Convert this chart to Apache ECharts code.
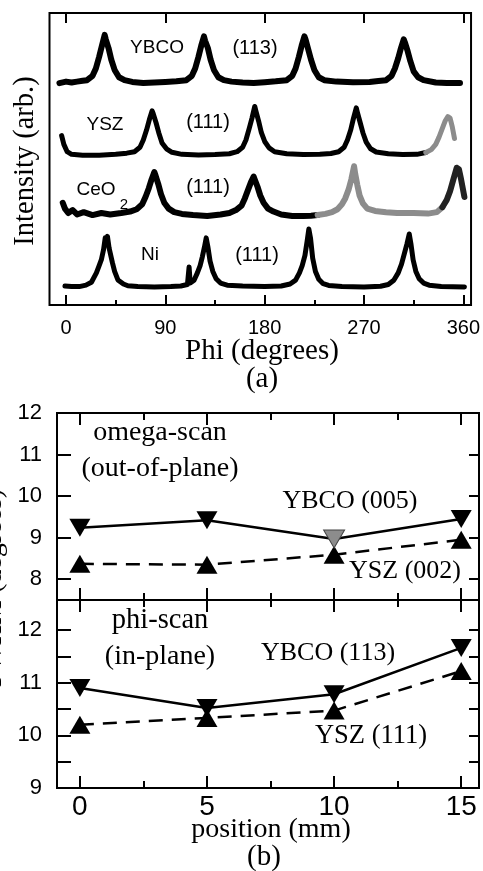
<!DOCTYPE html>
<html>
<head>
<meta charset="utf-8">
<script src="https://cdn.jsdelivr.net/npm/echarts@6/dist/echarts.min.js"></script>
<style>
html,body{margin:0;padding:0;background:#fff;}
#c{width:483px;height:871px;}
</style>
</head>
<body>
<div id="c"></div>
<script>
// ---------- Panel (a): phi scans, [phi (deg), intensity (arb.)] ----------
const ybco113Scan = [[-6,76],[0,76.5],[5,76.2],[10,76.5],[15,76.8],
  [19,77],[24,78.5],[27,81],[30,85],[32.5,88.8],[35,92.5],[36,91],[38.5,88],[41,84],[44,80.5],[48,78],[53,77],
  [60,76.4],[70,76],[80,76.2],[90,76.4],[100,76.6],
  [109,77],[114,78.5],[117,81],[120,85],[122.5,88.8],[125,92],[126,90.5],[128.5,88],[131,84],[134,80.5],[138,78],[143,77],
  [150,76.5],[160,76.2],[170,76],[180,76.3],[190,76.6],
  [200,77],[205,78.5],[208,81],[211,85],[213.5,88.8],[216,92],[217,91],[219.5,87.5],[222,84],[225,80.5],[229,78],[234,77],
  [245,76.5],[260,76.3],[275,76.4],[283,76.7],
  [290,77],[295,78.5],[298,81],[301,84.5],[303.5,88],[306,91],[307,90],[309.5,87],[312,83.5],[315,80],[319,78],[324,77],
  [335,76.2],[345,76],[357,76]];
const ysz111Scan = [[-4,58],[-2,55],[1,52.5],[5,51.6],[15,51.3],[30,51.3],[45,51.6],[55,52],
  [62,52.5],[67,54],[70,56.5],[73,60],[75.5,63.5],[78,66.5],[79,65.5],[81.5,62.5],[84,59],[87,55.5],[91,53.5],[96,52.3],
  [105,51.6],[120,51.4],[135,51.5],[148,51.8],
  [155,52.5],[160,54],[163,56.5],[166,60.5],[168.5,64],[171,68],[172,66.5],[174.5,63],[177,59],[180,56],[184,53.8],[189,52.5],
  [200,51.8],[215,51.5],[230,51.6],[240,51.9],
  [247,52.5],[252,54],[255,56.5],[258,60],[260.5,64],[263,67.5],[264,66],[266.5,62.5],[269,59],[272,55.8],[276,53.5],[281,52.4],
  [292,51.8],[305,51.5],[318,51.6],[326,52.2]];
const ysz111ScanGrey = [[326,52.2],[331,53.2],[335,55],[338,57.5],[341,60.5],[343.5,63],[346,64.5],[348,64],[350,61],[352,57]];
const ceo2Scan = [[-3,35],[-1,33],[2,31.5],[6,32.5],[10,31],[16,31.8],[24,30.8],[32,31.5],[40,31],[50,31.5],[58,32],
  [64,32.8],[69,34.5],[72,37],[75,40],[77.5,43],[80,45.5],[81,44.5],[83.5,41.5],[86,38],[89,35],[93,33],[98,31.8],
  [105,31.2],[115,30.8],[128,30.5],[140,31],[148,31.5],
  [154,32.5],[159,34],[162,36.5],[165,39.5],[167.5,42],[170,44],[171,43],[173.5,40.5],[176,37.5],[179,35],[183,33],[188,32],
  [195,31],[205,30.5],[215,30.5],[222,30.6],[228,30.8]];
const ceo2ScanGrey = [[228,30.8],[235,31.2],[241,31.8],[246,32.8],[250,34.5],[253,36.5],[256,39.5],[258.5,43],[261,47.5],[262,45],[264,41],[266,37.5],[269,34.8],[273,33],[280,32.2],[290,31.8],[300,31.5],[315,31.5],[328,31.3],[336,31.8],[341,33.5]];
const ceo2ScanEnd = [[341,33.5],[345,36],[348,39],[351,43],[354,47],[356,46.5],[358,43],[361,37]];
const niScan = [[-1,6.5],[5,6.3],[12,6.3],
  [18,6.8],[23,7.8],[27.5,11],[30,13.5],[32,15.5],[34,19],[35.5,23],[36.5,21.5],[37.5,23.5],[39,19.5],[42,14.5],[44,11.5],[47,8.6],[52,7.2],[56,6.6],
  [65,6.3],[80,6.2],[95,6.3],[104,6.5],[110,7],[111.5,13],[112.5,7.5],
  [116,8.5],[119,11],[121.5,13.5],[123.5,16.5],[125.5,20],[127,23],[128.5,20],[130.5,15],[133,11.5],[136,9],[140,7.5],[146,6.8],
  [160,6.5],[180,6.3],[195,6.5],
  [203,7.2],[208,8.5],[211.5,11],[214,13.5],[216.5,17],[218.5,22],[220,26],[221.5,23],[223.5,16],[226,11.5],[229,8.8],[233,7.3],[238,6.7],
  [250,6.3],[270,6.2],[285,6.4],
  [292,7],[297,8.5],[301,11],[304,14],[306.5,17.5],[309,21],[311,24.3],[312.5,21],[314.5,15.5],[317,11.5],[320,9],[324,7.5],[329,6.8],
  [340,6.3],[361,6.2]];

const phiLabels = [0, 90, 180, 270, 360];
const phiMinorTicks = [45, 135, 225, 315];

// ---------- Panel (b): FWHM vs position ----------
const positions = [0, 5, 10, 15];
const omegaYBCO005 = [9.24, 9.42, 8.97, 9.45];
const omegaYSZ002 = [8.37, 8.35, 8.59, 8.95];
const phiYBCO113 = [10.9, 10.52, 10.78, 11.66];
const phiYSZ111 = [10.2, 10.33, 10.47, 11.22];

const posLabels = [0, 5, 10, 15];
const posMinorTicks = [2.5, 7.5, 12.5];
const omegaYLabels = [8, 9, 10, 11, 12];
const omegaYTicks = [8, 9, 10, 11];
const phiYLabels = [9, 10, 11, 12];
const phiYTicks = [9.5, 10, 10.5, 11, 11.5, 12];

const SANS = 'Liberation Sans';
const SERIF = 'Liberation Serif';
const BLACK = '#000';
const GREY = '#8c8c8c';

function pairs(xs, ys){ return xs.map((x,i)=>[x, ys[i]]); }

function tickAxis(gridIndex, position, min, max, ticks, len, labels, labelStyle){
  return {
    type:'value', gridIndex, position, min, max,
    axisLine:{show:false, onZero:false},
    splitLine:{show:false},
    axisTick:{show:true, inside:true, length:len, customValues:ticks, lineStyle:{color:BLACK, width:2}},
    axisLabel: labels ? Object.assign({show:true, customValues:labels, color:BLACK, fontFamily:SANS}, labelStyle) : {show:false}
  };
}

const PHI_MIN = -15, PHI_MAX = 367;
const POS_MIN = -0.9, POS_MAX = 15.7;

const xAxis = [
  tickAxis(0,'bottom',PHI_MIN,PHI_MAX,phiLabels,10,phiLabels,{fontSize:20, margin:13}),
  tickAxis(0,'bottom',PHI_MIN,PHI_MAX,phiMinorTicks,5,null),
  tickAxis(0,'top',PHI_MIN,PHI_MAX,phiLabels,10,null),
  tickAxis(1,'bottom',POS_MIN,POS_MAX,posLabels,12,null),
  tickAxis(1,'bottom',POS_MIN,POS_MAX,posMinorTicks,7,null),
  tickAxis(1,'top',POS_MIN,POS_MAX,posLabels,12,null),
  tickAxis(1,'top',POS_MIN,POS_MAX,posMinorTicks,7,null),
  tickAxis(2,'bottom',POS_MIN,POS_MAX,posLabels,12,posLabels,{fontSize:28, margin:5}),
  tickAxis(2,'bottom',POS_MIN,POS_MAX,posMinorTicks,7,null),
  tickAxis(2,'top',POS_MIN,POS_MAX,posLabels,12,null),
  tickAxis(2,'top',POS_MIN,POS_MAX,posMinorTicks,7,null)
];
const yAxis = [
  {type:'value', gridIndex:0, min:0, max:100, show:false},
  tickAxis(1,'left',7.5,12,omegaYTicks,14,omegaYLabels,{fontSize:22, margin:15}),
  tickAxis(1,'right',7.5,12,omegaYTicks,10,null),
  tickAxis(2,'left',9,12.57,phiYTicks,14,phiYLabels,{fontSize:22, margin:15}),
  tickAxis(2,'right',9,12.57,phiYTicks,10,null)
];

function scanSeries(data, color, width){
  return {type:'line', xAxisIndex:0, yAxisIndex:0, data, showSymbol:false, symbol:'none',
    lineStyle:{color, width, join:'round', cap:'round'}, silent:true, animation:false};
}
function pointSeries(xi, yi, data, down, dashed){
  return {type:'line', xAxisIndex:xi, yAxisIndex:yi, data,
    symbol:'triangle', symbolSize:[21,18], symbolRotate: down?180:0, showSymbol:true,
    itemStyle:{color:BLACK, opacity:1},
    lineStyle:{color:BLACK, width:2.5, type: dashed ? [14,9] : 'solid'},
    z: down?4:3, animation:false};
}

const ybco005Data = pairs(positions, omegaYBCO005).map((p,i)=> i===2 ? {value:p, itemStyle:{color:GREY, borderColor:'#444', borderWidth:1}} : p);

const series = [
  scanSeries(ybco113Scan, BLACK, 6),
  scanSeries(ysz111Scan, BLACK, 5),
  scanSeries(ysz111ScanGrey, GREY, 5),
  scanSeries(ceo2Scan, BLACK, 6),
  scanSeries(ceo2ScanGrey, GREY, 6),
  scanSeries(ceo2ScanEnd, '#222', 6),
  scanSeries(niScan, BLACK, 5),
  pointSeries(3,1, pairs(positions, omegaYSZ002), false, true),
  pointSeries(3,1, ybco005Data, true, false),
  pointSeries(7,3, pairs(positions, phiYSZ111), false, true),
  pointSeries(7,3, pairs(positions, phiYBCO113), true, false)
];

function txt(x, y, text, font, size, opts){
  return Object.assign({type:'text', x, y, z:100, style:{text, fill:BLACK, font: size+'px "'+font+'"', textAlign:'center', textVerticalAlign:'middle'}}, opts||{});
}

const graphic = [
  // panel (a)
  txt(157, 48, 'YBCO', SANS, 19),
  txt(255, 48, '(113)', SANS, 20),
  txt(105, 125, 'YSZ', SANS, 19),
  txt(208, 122, '(111)', SANS, 20),
  txt(96, 190, 'CeO', SANS, 19),
  txt(124, 205, '2', SANS, 15),
  txt(208, 187, '(111)', SANS, 20),
  txt(150, 255, 'Ni', SANS, 19),
  txt(257, 255, '(111)', SANS, 20),
  txt(26, 161, 'Intensity (arb.)', SERIF, 28.5, {rotation: Math.PI/2}),
  txt(262, 351, 'Phi (degrees)', SERIF, 29),
  txt(262, 379, '(a)', SERIF, 29),
  // panel (b)
  txt(160, 433, 'omega-scan', SERIF, 28),
  txt(160, 469, '(out-of-plane)', SERIF, 28),
  txt(350, 501, 'YBCO (005)', SERIF, 26),
  txt(405, 571, 'YSZ (002)', SERIF, 26),
  txt(160, 621, 'phi-scan', SERIF, 28.5),
  txt(160, 657, '(in-plane)', SERIF, 28),
  txt(328, 653, 'YBCO (113)', SERIF, 26),
  txt(371, 736, 'YSZ (111)', SERIF, 26.5),
  txt(271, 830, 'position (mm)', SERIF, 28),
  txt(264, 857, '(b)', SERIF, 29),
  txt(-6, 588, 'FWHM (degrees)', SERIF, 28, {rotation: Math.PI/2})
];

const chart = echarts.init(document.getElementById('c'), null, {renderer:'canvas'});
chart.setOption({
  animation:false,
  backgroundColor:'#fff',
  grid:[
    {left:49.5, top:13, width:422.5, height:292, show:true, borderColor:BLACK, borderWidth:2, backgroundColor:'transparent', containLabel:false},
    {left:57, top:413, width:422, height:187, show:true, borderColor:BLACK, borderWidth:2, backgroundColor:'transparent', containLabel:false},
    {left:57, top:600, width:422, height:188, show:true, borderColor:BLACK, borderWidth:2, backgroundColor:'transparent', containLabel:false}
  ],
  xAxis, yAxis, series, graphic
});
</script>
</body>
</html>
